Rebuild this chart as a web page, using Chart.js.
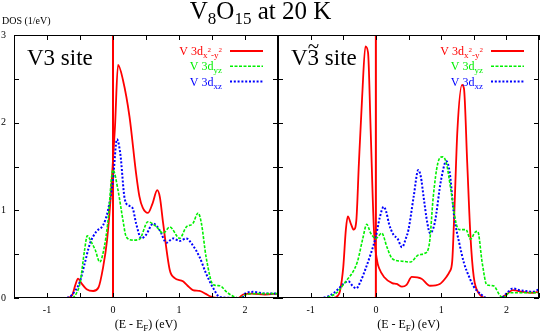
<!DOCTYPE html>
<html>
<head>
<meta charset="utf-8">
<script src="https://cdn.jsdelivr.net/npm/chart.js@4.4.0/dist/chart.umd.min.js"></script>
<style>
  html, body { margin: 0; padding: 0; background: #fff; }
  #wrap { position: relative; width: 545px; height: 334px; }
  canvas { position: absolute; left: 0; top: 0; }
</style>
</head>
<body>
<div id="wrap">
  <canvas id="leftChart" width="545" height="334"></canvas>
  <canvas id="rightChart" width="545" height="334"></canvas>
</div>
<script>
// axis ranges and ticks (eV, 1/eV)
const xRange = [-1.5, 2.5];
const yRange = [0, 3];
const xTicks = [-1.5, -1, -0.5, 0, 0.5, 1, 1.5, 2, 2.5];
const yTicks = [0, 0.5, 1, 1.5, 2, 2.5, 3];
const fermiEnergy = 0;

// V3 site, [E - EF, DOS]
const v3X2y2 = [[-1.5,0],[-0.7,0],[-0.62,0.03],[-0.57,0.15],[-0.53,0.22],[-0.48,0.17],[-0.4,0.1],[-0.3,0.08],
  [-0.22,0.12],[-0.15,0.35],[-0.09,0.66],[-0.03,1.2],[0.03,1.95],[0.076,2.66],[0.15,2.49],[0.25,2.07],
  [0.35,1.42],[0.4,1.16],[0.45,1.03],[0.53,0.97],[0.6,1.08],[0.67,1.23],[0.71,1.15],[0.76,0.85],
  [0.86,0.32],[0.93,0.23],[1.06,0.19],[1.13,0.14],[1.21,0.09],[1.31,0.08],[1.4,0.05],[1.47,0.02],
  [1.6,0],[1.9,0],[1.97,0.04],[2.1,0.05],[2.3,0.04],[2.5,0.05]];
const v3Yz = [[-1.5,0],[-0.62,0],[-0.55,0.06],[-0.5,0.17],[-0.43,0.55],[-0.39,0.71],[-0.33,0.64],[-0.27,0.55],
  [-0.2,0.41],[-0.13,0.59],[-0.08,0.85],[0,1.46],[0.076,1.23],[0.15,0.89],[0.2,0.7],[0.3,0.66],
  [0.4,0.67],[0.53,0.87],[0.66,0.81],[0.76,0.74],[0.86,0.81],[1.01,0.68],[1.11,0.81],[1.21,0.85],
  [1.29,0.97],[1.34,0.85],[1.41,0.47],[1.52,0.15],[1.62,0.14],[1.72,0.07],[1.82,0.02],[1.92,0],
  [2.02,0.04],[2.2,0.05],[2.5,0.05]];
const v3Xz = [[-1.5,0],[-0.72,0],[-0.63,0.03],[-0.5,0.19],[-0.43,0.39],[-0.35,0.62],[-0.25,0.76],[-0.15,0.83],
  [-0.076,1.0],[0,1.35],[0.06,1.81],[0.11,1.65],[0.18,1.12],[0.25,1.05],[0.3,1.02],[0.35,0.85],
  [0.43,0.68],[0.5,0.72],[0.61,0.85],[0.71,0.77],[0.81,0.63],[0.91,0.68],[1.01,0.65],[1.11,0.68],
  [1.21,0.6],[1.31,0.47],[1.41,0.28],[1.52,0.11],[1.62,0.01],[1.95,0],[2.0,0.05],[2.12,0.07],
  [2.32,0.05],[2.5,0.05]];

// V3~ site, [E - EF, DOS]
const v3tX2y2 = [[-1.5,0],[-0.65,0],[-0.58,0.03],[-0.55,0.08],[-0.5,0.35],[-0.46,0.78],[-0.43,0.93],[-0.38,0.84],
  [-0.34,0.78],[-0.3,0.88],[-0.26,1.54],[-0.21,2.3],[-0.16,2.87],[-0.12,2.8],[-0.08,1.92],[-0.03,0.78],
  [0.02,0.42],[0.05,0.34],[0.125,0.24],[0.25,0.17],[0.32,0.16],[0.4,0.13],[0.47,0.15],[0.55,0.24],
  [0.7,0.22],[0.83,0.14],[0.98,0.16],[1.08,0.24],[1.13,0.3],[1.17,0.42],[1.2,0.93],[1.25,1.92],
  [1.32,2.43],[1.35,2.39],[1.4,1.54],[1.45,0.7],[1.5,0.24],[1.58,0.05],[1.7,0],[1.9,0],
  [2.0,0.04],[2.1,0.09],[2.25,0.07],[2.4,0.06],[2.5,0.07]];
const v3tYz = [[-1.5,0],[-0.8,0],[-0.7,0.02],[-0.6,0.06],[-0.5,0.15],[-0.45,0.2],[-0.35,0.3],[-0.28,0.42],
  [-0.2,0.68],[-0.14,0.84],[-0.08,0.74],[0,0.68],[0.09,0.74],[0.17,0.58],[0.25,0.45],[0.4,0.42],
  [0.53,0.41],[0.65,0.49],[0.75,0.51],[0.82,0.62],[0.88,1.16],[0.95,1.54],[1.02,1.61],[1.08,1.54],
  [1.15,1.23],[1.23,0.85],[1.28,0.78],[1.38,0.78],[1.45,0.67],[1.52,0.75],[1.56,0.76],[1.63,0.4],
  [1.7,0.15],[1.8,0.14],[1.9,0.03],[1.95,0],[2.05,0.06],[2.3,0.06],[2.5,0.06]];
const v3tXz = [[-1.5,0],[-0.85,0],[-0.7,0.03],[-0.58,0.1],[-0.5,0.16],[-0.42,0.19],[-0.36,0.14],[-0.3,0.11],
  [-0.24,0.18],[-0.16,0.33],[-0.08,0.5],[0,0.7],[0.06,0.92],[0.12,1.04],[0.16,0.98],[0.2,0.85],
  [0.27,0.72],[0.33,0.68],[0.4,0.58],[0.46,0.68],[0.5,0.78],[0.58,1.16],[0.65,1.46],[0.69,1.38],
  [0.73,1.16],[0.79,0.85],[0.83,0.74],[0.9,0.85],[1.0,1.35],[1.08,1.56],[1.13,1.44],[1.2,0.93],
  [1.28,0.62],[1.35,0.4],[1.43,0.24],[1.5,0.13],[1.6,0.05],[1.7,0],[1.92,0],[2.0,0.05],
  [2.1,0.11],[2.2,0.09],[2.3,0.08],[2.4,0.07],[2.5,0.1]];

const RED = '#ff0000';
const GREEN = '#00f000';
const BLUE = '#0000ff';
const SERIF = '"Liberation Serif", "DejaVu Serif", serif';
const styles = {
    x2y2: { color: RED, dash: [], width: 1.8 },
    yz: { color: GREEN, dash: [3, 1.5], width: 1.6 },
    xz: { color: BLUE, dash: [2, 1.8], width: 2 },
};

function toPoints(pairs) {
    return pairs.map(([x, y]) => ({ x, y }));
}

function curve(pairs, style) {
    return {
        data: toPoints(pairs),
        borderColor: style.color,
        borderWidth: style.width,
        borderDash: style.dash,
        pointRadius: 0,
        cubicInterpolationMode: 'monotone',
        fill: false,
    };
}

function fermiLine() {
    return {
        data: [{ x: fermiEnergy, y: yRange[0] }, { x: fermiEnergy, y: yRange[1] }],
        borderColor: RED,
        borderWidth: 2,
        pointRadius: 0,
    };
}

// draw text pieces [text, size, dy], returns start x of each piece
function drawRich(ctx, pieces, x, baseline, color, align) {
    ctx.fillStyle = color;
    ctx.textBaseline = 'alphabetic';
    ctx.textAlign = 'left';
    let total = 0;
    pieces.forEach(([t, s]) => { ctx.font = `${s}px ${SERIF}`; total += ctx.measureText(t).width; });
    let cx = align === 'right' ? x - total : align === 'center' ? x - total / 2 : x;
    const starts = [];
    pieces.forEach(([t, s, dy]) => {
        ctx.font = `${s}px ${SERIF}`;
        starts.push(cx);
        ctx.fillText(t, cx, baseline + dy);
        cx += ctx.measureText(t).width;
    });
    return starts;
}

const legendRows = [
    { style: styles.x2y2, pieces: [['V 3d', 12, 0], ['x', 9, 3], ['2', 7, -3], ['-y', 9, 3], ['2', 7, -3]] },
    { style: styles.yz, pieces: [['V 3d', 12, 0], ['yz', 9, 3]] },
    { style: styles.xz, pieces: [['V 3d', 12, 0], ['xz', 9, 3]] },
];

function framePlugin(siteLabel, tilde, withTitle) {
    return {
        id: 'frame',
        afterDraw(chart) {
            const { ctx, chartArea: a, scales } = chart;
            const xs = scales.x, ys = scales.y;
            ctx.save();
            ctx.strokeStyle = '#000';
            ctx.lineWidth = 1;
            ctx.setLineDash([]);
            ctx.strokeRect(a.left + 0.5, a.top + 0.5, a.right - a.left - 1, a.bottom - a.top - 1);
            ctx.beginPath();
            xTicks.forEach((v) => {
                const px = Math.round(xs.getPixelForValue(v)) + 0.5;
                ctx.moveTo(px, a.bottom); ctx.lineTo(px, a.bottom - 5);
                ctx.moveTo(px, a.top); ctx.lineTo(px, a.top + 5);
            });
            yTicks.forEach((v) => {
                const py = Math.round(ys.getPixelForValue(v)) + 0.5;
                ctx.moveTo(a.left, py); ctx.lineTo(a.left + 5, py);
                ctx.moveTo(a.right, py); ctx.lineTo(a.right - 5, py);
            });
            ctx.stroke();

            // legend
            legendRows.forEach((row, i) => {
                const ly = a.top + 16 + i * 15.3;
                drawRich(ctx, row.pieces, a.right - 56, ly + 4, row.style.color, 'right');
                ctx.beginPath();
                ctx.strokeStyle = row.style.color;
                ctx.lineWidth = row.style.width;
                ctx.setLineDash(row.style.dash);
                ctx.moveTo(a.right - 48, ly);
                ctx.lineTo(a.right - 15, ly);
                ctx.stroke();
            });
            ctx.setLineDash([]);

            // site label, optional tilde over the digit
            const starts = drawRich(ctx, siteLabel, a.left + 13, a.top + 30, '#000', 'left');
            if (tilde) {
                ctx.font = `23px ${SERIF}`;
                const cx = starts[1] + ctx.measureText('3').width / 2;
                ctx.font = `21px ${SERIF}`;
                const m = ctx.measureText('~');
                ctx.textAlign = 'center';
                ctx.fillText('~', cx, a.top + 11.5 + (m.actualBoundingBoxAscent - m.actualBoundingBoxDescent) / 2);
                ctx.textAlign = 'left';
            }

            // x axis title
            const mid = (a.left + a.right) / 2;
            drawRich(ctx, [['(E - E', 12, 0], ['F', 9, 3], [') (eV)', 12, 0]], mid, 328, '#000', 'center');

            if (withTitle) {
                drawRich(ctx, [['V', 25, 0], ['8', 17, 5], ['O', 25, 0], ['15', 17, 5], [' at 20 K', 25, 0]],
                    260.5, 19, '#000', 'center');
                drawRich(ctx, [['DOS (1/eV)', 10, 0]], 2, 23.5, '#000', 'left');
            }
            ctx.restore();
        },
    };
}

function panelOptions(padding, showY) {
    return {
        responsive: false,
        animation: false,
        layout: { padding },
        plugins: { legend: { display: false }, tooltip: { enabled: false } },
        scales: {
            x: {
                type: 'linear',
                min: xRange[0],
                max: xRange[1],
                afterFit: (s) => { s.height = 36; },
                afterBuildTicks: (s) => { s.ticks = xTicks.map((v) => ({ value: v })); },
                grid: { display: false, drawTicks: false },
                border: { display: false },
                ticks: {
                    autoSkip: false,
                    maxRotation: 0,
                    padding: 6,
                    color: '#000',
                    font: { family: SERIF, size: 10 },
                    callback: (v) => (Number.isInteger(v) ? String(v) : ''),
                },
            },
            y: {
                type: 'linear',
                display: showY,
                min: yRange[0],
                max: yRange[1],
                afterFit: (s) => { s.width = showY ? 14 : 0; },
                afterBuildTicks: (s) => { s.ticks = yTicks.map((v) => ({ value: v })); },
                grid: { display: false, drawTicks: false },
                border: { display: false },
                ticks: {
                    autoSkip: false,
                    padding: 8,
                    color: '#000',
                    font: { family: SERIF, size: 10 },
                    callback: (v) => (Number.isInteger(v) ? String(v) : ''),
                },
            },
        },
    };
}

new Chart(document.getElementById('leftChart'), {
    type: 'line',
    data: {
        datasets: [
            curve(v3Yz, styles.yz),
            curve(v3Xz, styles.xz),
            curve(v3X2y2, styles.x2y2),
            fermiLine(),
        ],
    },
    options: panelOptions({ left: 0, top: 35, right: 267, bottom: 0 }, true),
    plugins: [framePlugin([['V3 site', 23, 0]], false, true)],
});

new Chart(document.getElementById('rightChart'), {
    type: 'line',
    data: {
        datasets: [
            curve(v3tYz, styles.yz),
            curve(v3tXz, styles.xz),
            curve(v3tX2y2, styles.x2y2),
            fermiLine(),
        ],
    },
    options: panelOptions({ left: 278, top: 35, right: 2, bottom: 0 }, false),
    plugins: [framePlugin([['V', 23, 0], ['3', 23, 0], [' site', 23, 0]], true, false)],
});
</script>
</body>
</html>
